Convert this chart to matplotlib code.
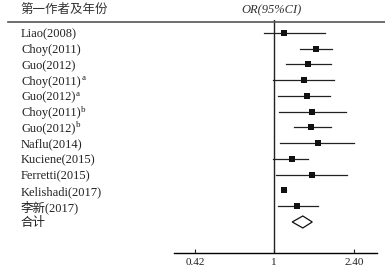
import matplotlib
matplotlib.use("Agg")
import matplotlib.pyplot as plt
from matplotlib.transforms import blended_transform_factory
from matplotlib.lines import Line2D
import numpy as np

plt.rcParams['font.family'] = ['Liberation Serif', 'Noto Sans CJK SC']

studies = ["Liao(2008)", "Choy(2011)", "Guo(2012)", "Choy(2011)",
           "Guo(2012)", "Choy(2011)", "Guo(2012)",
           "Naflu(2014)", "Kuciene(2015)", "Ferretti(2015)", "Kelishadi(2017)",
           "李新(2017)"]
superscripts = ["", "", "", "a", "a", "b", "b", "", "", "", "", ""]
or_vals = [1.12, 1.58, 1.45, 1.39, 1.44, 1.52, 1.50, 1.61, 1.22, 1.52, 1.12, 1.29]
ci_low = [0.90, 1.33, 1.14, 0.99, 1.04, 1.06, 1.24, 1.07, 0.99, 1.02, 1.10, 1.04]
ci_high = [1.74, 1.88, 1.86, 1.93, 1.85, 2.19, 1.86, 2.41, 1.45, 2.23, 1.14, 1.61]
pooled_label = "合计"
pooled = [1.22, 1.37, 1.52]
tick_vals = [0.42, 1, 2.40]
tick_labels = ["0.42", "1", "2.40"]
header_left = "第一作者及年份"
header_right = "OR(95%CI)"

W, H = 385, 269
fig = plt.figure(figsize=(W/100, H/100), dpi=100)
ax_l, ax_r, ax_t, ax_b = 174, 377, 20, 253
ax = fig.add_axes([ax_l/W, 1-ax_b/H, (ax_r-ax_l)/W, (ax_b-ax_t)/H])
ax.set_xscale('log')
ax.set_xlim(0.334, 3.09)
ax.set_ylim(13.97, -0.825)

n = len(studies)
ys = np.arange(n)
for i in range(n):
    ax.plot([ci_low[i], ci_high[i]], [ys[i], ys[i]], color='#222222', lw=0.9)
ax.scatter(or_vals, ys, marker='s', s=24, color='#111111', zorder=3, linewidths=0)

# pooled diamond
yp = n
dh = 0.38
ax.fill([pooled[0], pooled[1], pooled[2], pooled[1], pooled[0]],
        [yp, yp - dh, yp, yp + dh, yp], facecolor='white', edgecolor='#111111', lw=0.9)

ax.axvline(1, color='#222222', lw=1.0)

for s in ['top', 'right', 'left']:
    ax.spines[s].set_visible(False)
ax.spines['bottom'].set_linewidth(1.0)
ax.set_yticks([])
ax.set_xticks(tick_vals)
ax.set_xticklabels(tick_labels, fontsize=8)
ax.minorticks_off()
ax.tick_params(axis='x', direction='in', length=3, width=0.8, pad=3.5, colors='#222222')

tr = blended_transform_factory(fig.transFigure, ax.transData)
label_texts = []
for i, s in enumerate(studies):
    t = ax.text(21/W, ys[i], s, transform=tr, fontsize=9, va='center_baseline', ha='left',
                color='#222222', clip_on=False)
    label_texts.append(t)
ax.text(21/W, yp, pooled_label, transform=tr, fontsize=9, va='center_baseline', ha='left',
        color='#222222', clip_on=False)

# superscripts placed after measuring the labels
fig.canvas.draw()
renderer = fig.canvas.get_renderer()
for t, sup in zip(label_texts, superscripts):
    if sup:
        bb = t.get_window_extent(renderer)
        fig.text((bb.x1 + 0.5) / W, (bb.y1 + 1.5) / H, sup, fontsize=6.5,
                 ha='left', va='top', color='#222222')

# header
fig.text(20/W, 1-10/H, header_left, fontsize=9, va='center', ha='left', color='#333333')
fig.text(271/W, 1-10/H, header_right, fontsize=9, style='italic', va='center', ha='center',
         color='#333333')
fig.add_artist(Line2D([8/W, 1.0], [1-21.5/H, 1-21.5/H], transform=fig.transFigure,
                      color='#555555', lw=1.2))

fig.savefig("out.png", dpi=100)
